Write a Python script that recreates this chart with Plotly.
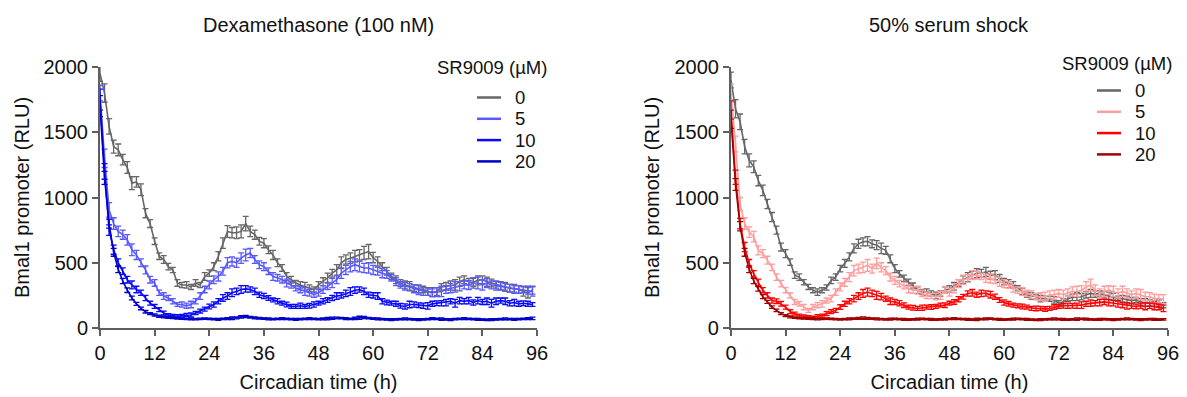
import plotly.graph_objects as go
from plotly.subplots import make_subplots

# ---------------- data ----------------
TIME = list(range(0, 96))  # hours (circadian time)

DOSES = ["0", "5", "10", "20"]

dex_0 = [1950,1800,1545,1390,1365,1290,1230,1110,1120,1060,880,800,
         665,550,525,470,445,345,330,330,315,345,330,395,
         420,470,550,650,740,730,730,740,800,740,715,665,
         650,600,560,500,460,395,370,345,330,320,305,295,
         330,355,385,420,445,500,525,535,550,560,575,585,
         540,510,470,435,395,370,345,330,320,305,300,295,
         280,275,280,315,320,325,330,355,370,355,350,365,
         370,355,345,330,325,315,305,300,295,280,270,290]
dex_5 = [1800,1300,905,800,740,715,675,600,560,500,445,370,
         345,270,245,230,205,180,180,170,180,205,245,295,
         330,370,395,435,500,510,500,535,560,575,525,485,
         470,435,395,385,370,345,330,305,295,280,270,255,
         270,295,320,345,370,420,445,470,485,470,460,460,
         445,435,420,410,385,355,330,320,315,300,290,280,
         275,270,275,280,295,305,315,320,330,330,345,345,
         330,345,330,325,320,315,305,300,295,295,290,280]
dex_10 = [1750,1200,750,600,500,435,370,330,295,270,230,190,
          165,140,115,100,95,90,95,100,100,115,130,145,
          165,180,205,230,245,270,280,295,300,295,280,255,
          245,230,215,205,190,180,165,165,170,165,170,180,
          190,205,215,230,245,250,265,280,290,295,280,255,
          250,245,205,195,190,185,170,165,180,180,175,170,
          170,185,190,190,195,205,190,210,205,210,195,210,
          200,205,190,205,210,205,190,195,185,190,185,180]
dex_20 = [1700,1150,800,580,450,360,290,230,185,150,125,110,
          100,90,85,80,78,75,72,70,70,68,70,72,
          70,68,66,70,72,75,78,85,88,82,78,75,
          72,70,68,70,72,70,68,66,68,70,72,70,
          68,70,72,75,78,76,72,70,74,78,80,76,
          72,70,68,66,64,66,68,70,68,66,64,66,
          68,72,70,68,66,64,68,70,72,70,68,66,
          64,62,64,66,68,70,68,66,68,70,72,74]

serum_0 = [1900,1680,1580,1390,1285,1235,1130,1055,950,850,750,620,
           570,505,405,390,350,315,290,275,290,310,365,390,
           455,495,545,610,645,660,665,645,635,610,595,530,
           455,415,380,350,325,290,275,275,265,250,265,290,
           300,320,345,370,390,405,420,420,430,405,405,380,
           355,340,330,305,280,255,245,240,225,225,225,215,
           190,200,225,235,240,240,255,265,260,265,255,245,
           240,225,225,215,210,215,200,195,190,185,190,175]
serum_5 = [1800,1410,950,800,735,700,595,570,520,465,390,340,
           290,250,200,185,160,135,160,175,185,210,225,275,
           315,350,390,440,455,465,480,455,495,465,440,390,
           365,340,325,300,290,290,265,250,245,240,250,290,
           275,305,340,370,380,405,405,395,380,380,370,355,
           340,330,305,290,280,265,255,240,240,240,255,255,
           265,255,270,280,280,290,315,330,290,265,280,290,
           280,265,280,265,255,265,255,240,240,225,225,220]
serum_10 = [1670,1155,800,620,495,415,350,290,250,210,205,185,
            160,125,110,95,90,85,80,90,95,110,125,135,
            160,185,205,225,245,265,275,265,250,240,225,205,
            200,190,175,160,155,150,155,160,160,165,175,175,
            190,200,220,240,265,270,255,265,265,255,240,215,
            195,185,175,170,165,160,150,150,150,145,150,160,
            165,170,170,170,170,175,185,190,190,195,200,195,
            190,185,175,170,170,165,170,165,170,165,160,150]
serum_20 = [1600,1100,780,580,450,360,300,240,200,160,135,110,
            95,85,80,76,74,72,70,68,70,72,70,68,
            66,68,70,72,74,76,74,72,70,68,66,68,
            70,68,66,64,66,68,70,68,66,64,66,68,
            70,72,70,68,66,64,66,68,70,72,68,66,
            64,66,68,70,68,66,64,62,64,66,68,70,
            68,66,64,66,68,70,68,66,64,66,68,66,
            64,66,68,70,68,66,64,66,68,66,64,66]

# SEM error values
dex_0_err = [60,70,60,50,45,40,45,50,40,45,35,30,
             25,25,30,25,20,25,20,25,20,25,20,30,
             25,30,35,40,45,40,45,50,55,40,35,30,
             35,30,35,30,25,30,25,20,25,30,25,20,
             25,30,35,30,40,45,35,40,45,40,50,55,
             40,35,30,30,25,30,25,30,35,25,30,25,
             30,35,30,25,30,35,40,35,30,25,30,35,
             30,35,30,25,30,35,30,25,30,35,40,30]
dex_5_err = [60,70,55,45,40,35,40,45,35,30,30,25,
             25,20,25,20,20,15,20,20,25,20,25,25,
             30,30,35,30,40,35,35,40,45,35,30,30,
             30,25,30,25,25,30,25,20,25,30,25,20,
             25,30,25,35,30,40,35,40,45,40,35,40,
             35,30,35,30,25,30,25,30,25,30,35,30,
             25,30,35,40,30,35,40,35,30,35,40,45,
             40,35,30,35,30,25,30,35,30,25,30,35]
dex_10_err = [80,60,40,35,30,25,25,30,25,20,20,15,
              15,15,15,10,10,12,10,12,15,12,15,15,
              18,20,20,25,25,30,25,30,25,20,25,20,
              20,18,15,20,15,18,15,15,20,15,18,20,
              15,20,18,20,25,20,25,30,25,20,25,20,
              20,25,20,18,15,20,18,20,25,20,18,20,
              25,20,18,20,25,20,30,25,20,25,20,25,
              20,25,30,25,20,25,20,25,20,18,20,15]
dex_20_err = [80,50,35,30,25,20,18,15,12,10,10,8,
              8,8,8,6,6,6,6,6,8,6,6,6,
              6,6,8,6,8,10,8,10,8,6,8,6,
              6,8,6,6,8,6,6,8,6,6,8,6,
              6,8,10,8,6,6,8,6,10,12,8,6,
              6,8,6,6,8,6,6,8,6,6,8,6,
              6,8,6,10,6,8,6,6,8,6,6,8,
              6,6,8,6,6,8,6,8,6,6,8,10]
serum_0_err = [60,70,60,55,50,45,40,40,35,35,30,30,
               30,25,25,25,20,20,20,25,20,20,25,25,
               25,30,30,35,35,30,35,30,35,40,30,30,
               30,25,25,25,20,25,20,25,20,25,20,25,
               25,30,25,30,35,30,35,30,35,30,35,30,
               25,30,25,20,25,20,25,20,25,20,20,25,
               20,25,20,25,30,25,25,30,25,20,25,30,
               25,20,25,30,25,20,25,30,25,20,25,20]
serum_5_err = [70,60,50,45,40,40,35,30,30,25,25,25,
               20,20,20,18,20,15,20,20,25,20,25,25,
               30,30,35,40,35,40,45,35,40,35,30,30,
               30,25,25,30,25,30,25,25,20,25,30,25,
               30,35,30,35,30,35,30,25,30,35,30,35,
               30,25,30,25,30,25,30,25,30,35,30,35,
               30,35,30,35,40,35,40,45,40,35,40,35,
               40,35,40,35,30,35,40,35,30,35,30,35]
serum_10_err = [70,55,40,35,30,25,25,20,20,20,18,18,
                15,15,12,12,10,10,10,12,12,15,15,15,
                18,20,20,25,25,30,30,25,30,25,20,25,
                20,20,18,15,18,15,20,15,18,15,15,18,
                15,18,20,18,20,25,20,25,20,25,20,18,
                20,18,15,15,18,15,15,18,15,18,15,18,
                15,18,20,18,20,25,20,25,20,25,20,25,
                20,25,20,25,20,18,20,25,20,25,20,25]
serum_20_err = [70,45,35,30,25,20,18,15,12,10,10,8,
                8,8,6,6,6,6,6,6,6,6,6,6,
                6,6,8,6,8,10,8,6,8,6,6,8,
                6,6,8,6,6,8,6,6,8,6,6,8,
                6,8,6,6,8,6,10,6,8,6,6,8,
                6,6,8,6,6,8,6,6,8,6,6,8,
                6,8,6,6,10,6,8,6,6,8,6,6,
                8,6,6,8,6,6,8,6,6,8,6,6]

X_TICKS = [0, 12, 24, 36, 48, 60, 72, 84, 96]
Y_TICKS = [0, 500, 1000, 1500, 2000]

PANEL_TITLES = ["Dexamethasone (100 nM)", "50% serum shock"]
LEGEND_TITLE = "SR9009 (µM)"
DEX_COLORS = ["#666666", "#5858ff", "#0808ff", "#0000c8"]
SERUM_COLORS = ["#666666", "#ff9c9c", "#ff0000", "#a00000"]

# ---------------- styling / layout constants ----------------
FONT = "Arial, Liberation Sans, sans-serif"
AXIS_COLOR = "#5f5f5f"
TEXT_COLOR = "#111111"
W, H = 1187, 397
M_L, M_R, M_T, M_B = 100, 19, 67, 69
PLOT_W = W - M_L - M_R
PLOT_H = H - M_T - M_B


def px_x(px):
    return (px - M_L) / PLOT_W


def px_y(py):
    return (H - M_B - py) / PLOT_H


# ---------------- figure ----------------
fig = make_subplots(rows=1, cols=2, horizontal_spacing=0.1816)

dex_series = [(dex_0, dex_0_err), (dex_5, dex_5_err), (dex_10, dex_10_err), (dex_20, dex_20_err)]
serum_series = [(serum_0, serum_0_err), (serum_5, serum_5_err), (serum_10, serum_10_err), (serum_20, serum_20_err)]

for col, series, colors in [(1, dex_series, DEX_COLORS), (2, serum_series, SERUM_COLORS)]:
    for dose, (vals, errs), c in zip(DOSES, series, colors):
        fig.add_trace(go.Scatter(
            x=TIME, y=vals, mode="lines", name=dose, showlegend=False,
            line=dict(color=c, width=1.6),
            error_y=dict(type="data", array=errs, visible=True,
                         color=c, thickness=1.3, width=3),
        ), row=1, col=col)

axis_common = dict(
    showline=True, linecolor=AXIS_COLOR, linewidth=2,
    ticks="outside", tickcolor=AXIS_COLOR, tickwidth=2, ticklen=6,
    showgrid=False, zeroline=False, automargin=False,
    tickfont=dict(family=FONT, size=20, color=TEXT_COLOR),
)
for col in (1, 2):
    fig.update_xaxes(range=[0, 96], tickvals=X_TICKS,
                     title=dict(text="Circadian time (h)",
                                font=dict(family=FONT, size=20, color=TEXT_COLOR), standoff=12),
                     row=1, col=col, **axis_common)
    fig.update_yaxes(range=[0, 2000], tickvals=Y_TICKS,
                     title=dict(text="Bmal1 promoter (RLU)",
                                font=dict(family=FONT, size=20, color=TEXT_COLOR), standoff=9),
                     row=1, col=col, **axis_common)

# ---- panel titles ----
annotations = [
    dict(text=PANEL_TITLES[0], xref="x domain", yref="paper", x=0.5, y=1.0,
         yanchor="middle", yshift=42, showarrow=False,
         font=dict(family=FONT, size=20, color=TEXT_COLOR)),
    dict(text=PANEL_TITLES[1], xref="x2 domain", yref="paper", x=0.5, y=1.0,
         yanchor="middle", yshift=42, showarrow=False,
         font=dict(family=FONT, size=20, color=TEXT_COLOR)),
]
shapes = []

# ---- legends (one per panel), drawn as key lines + text ----
LEGEND_BOXES = [
    # (title centre x, title y, key left x, first entry y, colours)
    (492, 67, 477, 97.5, DEX_COLORS),
    (1117, 63, 1097, 90.5, SERUM_COLORS),
]
KEY_LEN, LABEL_GAP, ROW_H = 24, 12, 21.3
for tx, ty, kx, ky, colors in LEGEND_BOXES:
    annotations.append(dict(text=LEGEND_TITLE, xref="paper", yref="paper",
                            x=px_x(tx), y=px_y(ty), xanchor="center", yanchor="middle",
                            showarrow=False, font=dict(family=FONT, size=18.5, color=TEXT_COLOR)))
    for i, (dose, c) in enumerate(zip(DOSES, colors)):
        yy = px_y(ky + i * ROW_H)
        shapes.append(dict(type="line", xref="paper", yref="paper",
                           x0=px_x(kx), x1=px_x(kx + KEY_LEN), y0=yy, y1=yy,
                           line=dict(color=c, width=2.5)))
        annotations.append(dict(text=dose, xref="paper", yref="paper",
                                x=px_x(kx + KEY_LEN + LABEL_GAP), y=yy,
                                xanchor="left", yanchor="middle", showarrow=False,
                                font=dict(family=FONT, size=18.5, color=TEXT_COLOR)))

fig.update_layout(
    width=W, height=H,
    margin=dict(l=M_L, r=M_R, t=M_T, b=M_B),
    plot_bgcolor="white", paper_bgcolor="white",
    font=dict(family=FONT, size=20, color=TEXT_COLOR),
    showlegend=False,
    hovermode=False,
    annotations=annotations,
    shapes=shapes,
)

fig.write_html("out.html", config={"displayModeBar": False, "staticPlot": True},
               post_script="document.body.style.margin='0px';")
